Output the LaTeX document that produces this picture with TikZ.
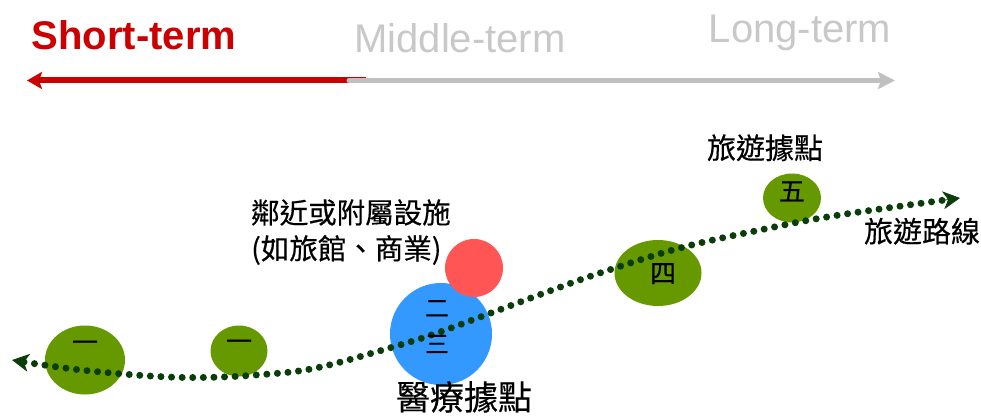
\documentclass[tikz,border=0pt]{standalone}
\usepackage{fontspec}
\setmainfont{Liberation Sans}
\newfontfamily\cjkfont[FakeBold=0.4]{Noto Sans CJK TC}
\usetikzlibrary{arrows.meta,shapes.geometric}
\definecolor{redtxt}{HTML}{CC0000}
\definecolor{greytxt}{HTML}{C8C8C8}
\definecolor{greyline}{HTML}{C0C0C0}
\definecolor{leafgreen}{HTML}{669900}
\definecolor{skyblue}{HTML}{3399FF}
\definecolor{coral}{HTML}{FF5555}
\definecolor{dotgreen}{HTML}{0A3D0A}
\tikzset{
  termlabel/.style={font=\fontsize{40}{44}\selectfont, inner sep=0pt},
  spot/.style={ellipse, fill=leafgreen, draw=none, inner sep=0pt},
  cjk/.style={font=\cjkfont\fontsize{#1}{#1}\selectfont, inner sep=0pt, text height=0.88em, text depth=0.12em},
  cjkleft/.style={font=\cjkfont\fontsize{28.5}{36}\selectfont, inner sep=0pt, align=left, anchor=north west},
  dotted route/.style={dotgreen, line width=7pt, line cap=round, dash pattern=on 0pt off 10.6pt},
  routetip/.style={dotgreen, line width=0.8pt, -{Stealth[length=17pt,width=18pt,inset=5pt]}},
}
\begin{document}
\begin{tikzpicture}[x=1pt,y=-1pt]
\useasboundingbox (0,0) rectangle (981,417);
% top timeline labels
\node[termlabel, text=redtxt, font=\fontsize{40}{44}\selectfont\bfseries] (short) at (134,35) {Short-term};
\node[termlabel, text=greytxt] (middle) at (460,38) {Middle-term};
\node[termlabel, text=greytxt] (long) at (800,33) {Long-term};
% timeline arrow
\coordinate (tlL) at (27,80.5);
\coordinate (tlR) at (895,80.5);
\coordinate (tlMidR) at (366,80.5);
\coordinate (tlMidG) at (349,80.5);
\draw[redtxt, line width=6pt, -{Stealth[length=15pt,width=17pt,inset=3pt]}] (tlMidR) -- (tlL);
\draw[greyline, line width=5pt, line cap=round, -{Stealth[length=17pt,width=17pt,inset=3pt]}] (tlMidG) -- (tlR);
% spots
\node[spot, minimum width=80pt, minimum height=69pt] (one) at (85,360) {};
\node[spot, minimum width=57pt, minimum height=51pt] (onebis) at (239,351) {};
\node[circle, fill=skyblue, minimum size=102pt, inner sep=0pt] (med) at (441,334) {};
\node[circle, fill=coral, minimum size=58pt, inner sep=0pt] (side) at (474,268) {};
\node[spot, minimum width=87pt, minimum height=66pt] (four) at (658,273) {};
\node[spot, minimum width=58pt, minimum height=49pt] (five) at (792,198) {};
% route
\coordinate (rs) at (24,362);
\coordinate (re) at (945,200);
\coordinate (ltip) at (12,360);
\coordinate (rtip) at (960,198);
\draw[dotted route] plot[smooth, tension=0.6] coordinates {(rs) (81,370) (150,376) (200,377.5) (256,375) (316,368) (393,347) (437,333) (491,313) (547,292) (600,273) (680,248) (760,230) (833,216) (re)};
\draw[routetip] (rs) -- (ltip);
\draw[routetip] (re) -- (rtip);
% labels in spots
\node[cjk=26] (t1) at (85,348) {一};
\node[cjk=26] (t1b) at (239,347) {一};
\node[cjk=24] (t2) at (437,313) {二};
\node[cjk=24] (t3) at (437,349) {三};
\node[cjk=26] (t4) at (663,279) {四};
\node[cjk=26] (t5) at (792,197) {五};
% captions
\node[cjk=34] (medcap) at (464,406) {醫療據點};
\node[cjkleft] (sidecap) at (251,199) {鄰近或附屬設施\\(如旅館、商業)};
\node[cjk=29] (tourcap) at (765,155) {旅遊據點};
\node[cjk=29] (routecap) at (922,238.5) {旅遊路線};
\end{tikzpicture}
\end{document}
